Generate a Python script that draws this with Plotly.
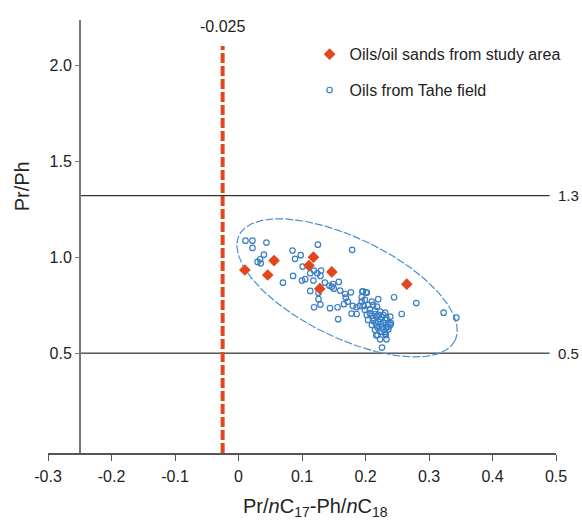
import numpy as np
import plotly.graph_objects as go

# ---- data -------------------------------------------------------------
study_x = [0.010, 0.056, 0.046, 0.118, 0.111, 0.147, 0.128, 0.265]
study_y = [0.933, 0.982, 0.907, 1.000, 0.956, 0.923, 0.836, 0.859]

tahe_x = [0.011, 0.022, 0.044, 0.022, 0.040, 0.034, 0.030, 0.035, 0.125, 0.085,
          0.098, 0.089, 0.179, 0.101, 0.113, 0.119, 0.130, 0.124, 0.129, 0.086,
          0.070, 0.100, 0.105, 0.118, 0.136, 0.143, 0.147, 0.150, 0.158, 0.149,
          0.113, 0.126, 0.160, 0.168, 0.177, 0.169, 0.196, 0.201, 0.194, 0.126,
          0.172, 0.166, 0.119, 0.129, 0.144, 0.156, 0.180, 0.186, 0.157, 0.178,
          0.186, 0.220, 0.245, 0.280, 0.257, 0.323, 0.343, 0.217, 0.223, 0.233,
          0.231, 0.226, 0.236, 0.240,
          0.195, 0.202, 0.197, 0.204, 0.212, 0.218, 0.199, 0.207, 0.215, 0.223,
          0.231, 0.202, 0.210, 0.218, 0.226, 0.233, 0.239, 0.204, 0.212, 0.220,
          0.228, 0.236, 0.210, 0.218, 0.226, 0.233, 0.215, 0.223, 0.231, 0.239,
          0.194, 0.199, 0.210, 0.207, 0.215, 0.221, 0.228, 0.212, 0.223, 0.231,
          0.216, 0.224, 0.220, 0.228, 0.236, 0.219, 0.232, 0.191]
tahe_y = [1.086, 1.086, 1.076, 1.048, 1.013, 0.989, 0.975, 0.968, 1.065, 1.034,
          1.010, 0.991, 1.038, 0.951, 0.916, 0.930, 0.930, 0.916, 0.902, 0.902,
          0.867, 0.878, 0.885, 0.878, 0.867, 0.852, 0.846, 0.836, 0.871, 0.860,
          0.824, 0.815, 0.826, 0.808, 0.817, 0.789, 0.822, 0.817, 0.791, 0.781,
          0.768, 0.755, 0.739, 0.753, 0.734, 0.739, 0.746, 0.739, 0.677, 0.706,
          0.704, 0.781, 0.791, 0.761, 0.704, 0.711, 0.685, 0.593, 0.572, 0.572,
          0.602, 0.529, 0.638, 0.656,
          0.820, 0.815, 0.746, 0.751, 0.751, 0.742, 0.725, 0.729, 0.721, 0.716,
          0.711, 0.699, 0.694, 0.690, 0.687, 0.682, 0.690, 0.673, 0.669, 0.664,
          0.659, 0.656, 0.647, 0.642, 0.638, 0.635, 0.621, 0.612, 0.612, 0.647,
          0.768, 0.777, 0.768, 0.708, 0.704, 0.699, 0.699, 0.682, 0.677, 0.673,
          0.656, 0.652, 0.630, 0.624, 0.624, 0.595, 0.595, 0.746]

# threshold lines
pr_ph_levels = [1.32, 0.5]
pr_ph_labels = ["1.3", "0.5"]
threshold_x = -0.025
threshold_label = "-0.025"

# ellipse enclosing Tahe oils (centre, semi-axis vectors in data units)
ell_center = (0.171, 0.840)
ell_u = (0.170, -0.274)
ell_v = (-0.035, -0.233)

x_ticks = [-0.3, -0.2, -0.1, 0, 0.1, 0.2, 0.3, 0.4, 0.5]
x_ticktext = ["-0.3", "-0.2", "-0.1", "0", "0.1", "0.2", "0.3", "0.4", "0.5"]
y_ticks = [0.5, 1.0, 1.5, 2.0]
y_ticktext = ["0.5", "1.0", "1.5", "2.0"]

# ---- figure -----------------------------------------------------------
FONT = "Liberation Sans, Arial, sans-serif"
RED = "#E2461D"
BLUE = "#3B7FC4"

fig = go.Figure()

# horizontal reference lines
for lv in pr_ph_levels:
    fig.add_trace(go.Scatter(x=[-0.25, 0.49], y=[lv, lv], mode="lines",
                             line=dict(color="black", width=1),
                             showlegend=False, hoverinfo="skip"))

# ellipse
t = np.linspace(0, 2 * np.pi, 240)
ex = ell_center[0] + ell_u[0] * np.cos(t) + ell_v[0] * np.sin(t)
ey = ell_center[1] + ell_u[1] * np.cos(t) + ell_v[1] * np.sin(t)
fig.add_trace(go.Scatter(x=ex, y=ey, mode="lines",
                         line=dict(color="#4A90D0", width=1.2, dash="8px,2px"),
                         showlegend=False, hoverinfo="skip"))

# vertical dashed threshold
fig.add_trace(go.Scatter(x=[threshold_x, threshold_x], y=[-0.02, 2.10], mode="lines",
                         line=dict(color=RED, width=4, dash="10px,3px"),
                         showlegend=False, hoverinfo="skip", cliponaxis=False))

fig.add_trace(go.Scatter(x=tahe_x, y=tahe_y, mode="markers",
                         name="Oils from Tahe field", legendgroup="b", legendrank=2,
                         marker=dict(symbol="circle-open", size=5.5, color=BLUE,
                                     line=dict(width=1.2, color=BLUE))))
fig.add_trace(go.Scatter(x=study_x, y=study_y, mode="markers",
                         name="Oils/oil sands from study area", legendgroup="a", legendrank=1,
                         marker=dict(symbol="diamond", size=9, color=RED,
                                     line=dict(width=0))))

annotations = []
for lv, lb in zip(pr_ph_levels, pr_ph_labels):
    annotations.append(dict(x=0.49, y=lv, xref="x", yref="y", text=lb,
                            showarrow=False, xanchor="left", xshift=6,
                            font=dict(size=15, color="#222", family=FONT)))
annotations.append(dict(x=threshold_x, y=2.2, xref="x", yref="y", text=threshold_label,
                        showarrow=False, xanchor="center", yanchor="middle",
                        font=dict(size=16, color="#222", family=FONT)))
annotations.append(dict(x=0.527, y=-0.125, xref="paper", yref="paper",
                        text="Pr/<i>n</i>C<sub>17</sub>-Ph/<i>n</i>C<sub>18</sub>",
                        showarrow=False, xanchor="center", yanchor="middle",
                        font=dict(size=20, color="#222", family=FONT)))
annotations.append(dict(x=-0.052, y=0.615, xref="paper", yref="paper", text="Pr/Ph",
                        textangle=-90, showarrow=False, xanchor="center", yanchor="middle",
                        font=dict(size=20, color="#222", family=FONT)))

fig.update_layout(
    width=582, height=521,
    margin=dict(l=48, r=26, t=20, b=68),
    paper_bgcolor="white", plot_bgcolor="white",
    font=dict(family=FONT, color="#222"),
    showlegend=True,
    legend=dict(x=0.515, y=0.96, xanchor="left", yanchor="top",
                font=dict(size=16, family=FONT, color="#222"),
                bgcolor="rgba(0,0,0,0)", tracegroupgap=12, traceorder="grouped"),
    annotations=annotations,
    xaxis=dict(range=[-0.3, 0.5], tickvals=x_ticks, ticktext=x_ticktext,
               showgrid=False, zeroline=False, showline=True, linecolor="#555",
               linewidth=1.5, ticks="outside", ticklen=6, tickcolor="#555",
               tickwidth=1.2, ticklabelstandoff=2,
               tickfont=dict(size=16, family=FONT, color="#222")),
    yaxis=dict(range=[-0.02, 2.235], tickvals=y_ticks, ticktext=y_ticktext,
               anchor="free", position=0.0625,
               showgrid=False, zeroline=False, showline=True, linecolor="#777",
               linewidth=1.5, ticks="outside", ticklen=4, tickcolor="#777",
               tickfont=dict(size=16, family=FONT, color="#222")),
)

fig.write_html("out.html")
